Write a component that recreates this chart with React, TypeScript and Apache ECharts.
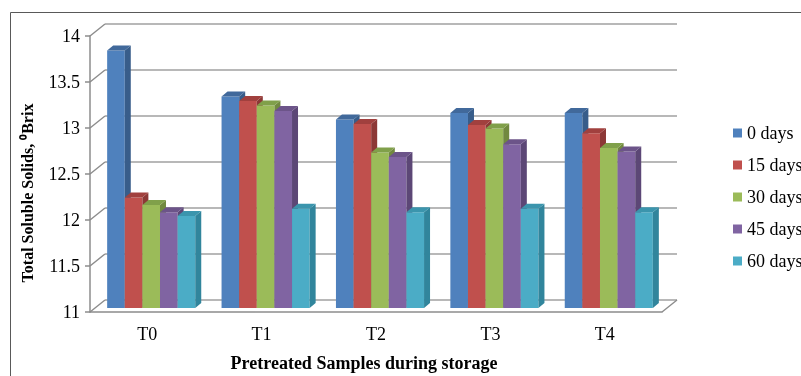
import React, { useEffect, useRef } from "react";
import * as echarts from "echarts";

const categories = ["T0", "T1", "T2", "T3", "T4"];
const seriesNames = ["0 days", "15 days", "30 days", "45 days", "60 days"];
const days0 = [13.8, 13.3, 13.05, 13.12, 13.12];
const days15 = [12.2, 13.25, 13.0, 12.99, 12.9];
const days30 = [12.12, 13.2, 12.69, 12.95, 12.74];
const days45 = [12.04, 13.14, 12.64, 12.78, 12.7];
const days60 = [12.0, 12.08, 12.04, 12.08, 12.04];
const allSeries = [days0, days15, days30, days45, days60];
const yMin = 11;
const yMax = 14;
const yStep = 0.5;
const yTicks = [11, 11.5, 12, 12.5, 13, 13.5, 14];

const frontColors = ["#4F81BD", "#C0504D", "#9BBB59", "#8064A2", "#4BACC6"];
const sideColors = ["#385D8A", "#8C3836", "#71893F", "#5C4776", "#31859C"];
const topColors = ["#41699B", "#A1403E", "#80A04A", "#6C5489", "#3B95AD"];

const FONT = "Liberation Serif";
const DEPTH_X = -15; // front plane offset from back plane
const DEPTH_Y = 12;
const BAR_DX = -11; // bar front face offset from back plane
const BAR_DY = 8;
const BOX_D = 6; // bar depth
const BOX_E = 5;

export default function App() {
  const ref = useRef<HTMLDivElement>(null);
  useEffect(() => {
    const chart = echarts.init(ref.current!, null, { renderer: "svg" });

    const barSeries = allSeries.map((vals, k) => ({
      type: "custom",
      name: seriesNames[k],
      xAxisIndex: 0,
      yAxisIndex: 0,
      clip: false,
      z: 5,
      itemStyle: { color: frontColors[k] },
      encode: { x: 0, y: 1 },
      data: vals.map((v, i) => [i, v]),
      renderItem: (params: any, api: any) => {
        const ci = api.value(0);
        const v = api.value(1);
        const top = api.coord([ci, v]);
        const base = api.coord([ci, yMin]);
        const band = api.size([1, 0])[0];
        const bw = band * 0.154;
        const x = top[0] + BAR_DX + (k - 2.5) * bw;
        const yt = top[1] + BAR_DY;
        const yb = base[1] + BAR_DY;
        return {
          type: "group",
          children: [
            {
              type: "rect",
              shape: { x, y: yt, width: bw, height: yb - yt },
              style: { fill: frontColors[k] },
            },
            {
              type: "polygon",
              shape: {
                points: [
                  [x + bw, yt],
                  [x + bw + BOX_D, yt - BOX_E],
                  [x + bw + BOX_D, yb - BOX_E],
                  [x + bw, yb],
                ],
              },
              style: { fill: sideColors[k] },
            },
            {
              type: "polygon",
              shape: {
                points: [
                  [x, yt],
                  [x + BOX_D, yt - BOX_E],
                  [x + bw + BOX_D, yt - BOX_E],
                  [x + bw, yt],
                ],
              },
              style: { fill: topColors[k] },
            },
          ],
        };
      },
    }));

    const frameSeries = {
      type: "custom",
      name: "frame",
      xAxisIndex: 0,
      yAxisIndex: 0,
      clip: false,
      z: 1,
      silent: true,
      encode: { x: 0, y: 1 },
      data: yTicks.map((v) => [0, v]),
      renderItem: (params: any, api: any) => {
        const cs = params.coordSys;
        const p = api.coord([0, api.value(1)]);
        const left = cs.x;
        const yb = p[1];
        const lineStyle = { stroke: "#8c8c8c", lineWidth: 1.5 };
        const children: any[] = [
          {
            type: "line",
            shape: { x1: left, y1: yb, x2: left + DEPTH_X, y2: yb + DEPTH_Y },
            style: lineStyle,
          },
        ];
        if (params.dataIndex === 0) {
          const right = cs.x + cs.width;
          children.push({
            type: "line",
            shape: { x1: right, y1: yb, x2: right + DEPTH_X, y2: yb + DEPTH_Y },
            style: lineStyle,
          });
        }
        return { type: "group", children };
      },
    };

    const option: any = {
      animation: false,
      color: frontColors,
      textStyle: { fontFamily: FONT },
      grid: [
        { left: 105, right: 124, top: 24, bottom: 76 },
        { left: 90, right: 139, top: 36, bottom: 64 },
      ],
      xAxis: [
        {
          type: "category",
          gridIndex: 0,
          data: categories,
          axisLine: { show: false },
          axisTick: { show: false },
          axisLabel: { show: false },
        },
        {
          type: "category",
          gridIndex: 1,
          data: categories,
          axisLine: { show: true, lineStyle: { color: "#8c8c8c", width: 1.5 } },
          axisTick: { show: false },
          axisLabel: {
            show: true,
            margin: 13,
            fontFamily: FONT,
            fontSize: 18,
            color: "#000",
          },
        },
      ],
      yAxis: [
        {
          type: "value",
          gridIndex: 0,
          min: yMin,
          max: yMax,
          interval: yStep,
          axisLine: { show: false },
          axisTick: { show: false },
          axisLabel: { show: false },
          splitLine: { show: true, lineStyle: { color: "#a0a0a0", width: 1.5 } },
        },
        {
          type: "value",
          gridIndex: 1,
          min: yMin,
          max: yMax,
          interval: yStep,
          axisLine: { show: true, lineStyle: { color: "#8c8c8c", width: 1.5 } },
          axisTick: { show: true, length: 5, lineStyle: { color: "#8c8c8c", width: 1.5 } },
          splitLine: { show: false },
          axisLabel: {
            show: true,
            margin: 10,
            fontFamily: FONT,
            fontSize: 18,
            color: "#000",
          },
        },
      ],
      legend: {
        orient: "vertical",
        left: 733,
        top: 124,
        padding: 0,
        itemWidth: 9,
        itemHeight: 9,
        itemGap: 14,
        icon: "rect",
        data: seriesNames,
        selectedMode: false,
        textStyle: { fontFamily: FONT, fontSize: 18, color: "#000" },
      },
      graphic: [
        {
          type: "rect",
          shape: { x: 10.5, y: 12.5, width: 1000, height: 600 },
          style: { fill: "none", stroke: "#595959", lineWidth: 1 },
          silent: true,
          z: 0,
        },
        {
          type: "text",
          x: 27,
          y: 193,
          rotation: Math.PI / 2,
          style: {
            text: "Total Soluble Solids, \u2070Brix",
            fontFamily: FONT,
            fontSize: 16,
            fontWeight: "bold",
            fill: "#000",
            textAlign: "center",
            textVerticalAlign: "middle",
          },
        },
        {
          type: "text",
          x: 364,
          y: 363,
          style: {
            text: "Pretreated Samples during storage",
            fontFamily: FONT,
            fontSize: 18,
            fontWeight: "bold",
            fill: "#000",
            textAlign: "center",
            textVerticalAlign: "middle",
          },
        },
      ],
      series: [frameSeries, ...barSeries],
    };
    chart.setOption(option);
    return () => chart.dispose();
  }, []);
  return (
    <div
      ref={ref}
      style={{ position: "fixed", left: 0, top: 0, width: 801, height: 376 }}
    />
  );
}
